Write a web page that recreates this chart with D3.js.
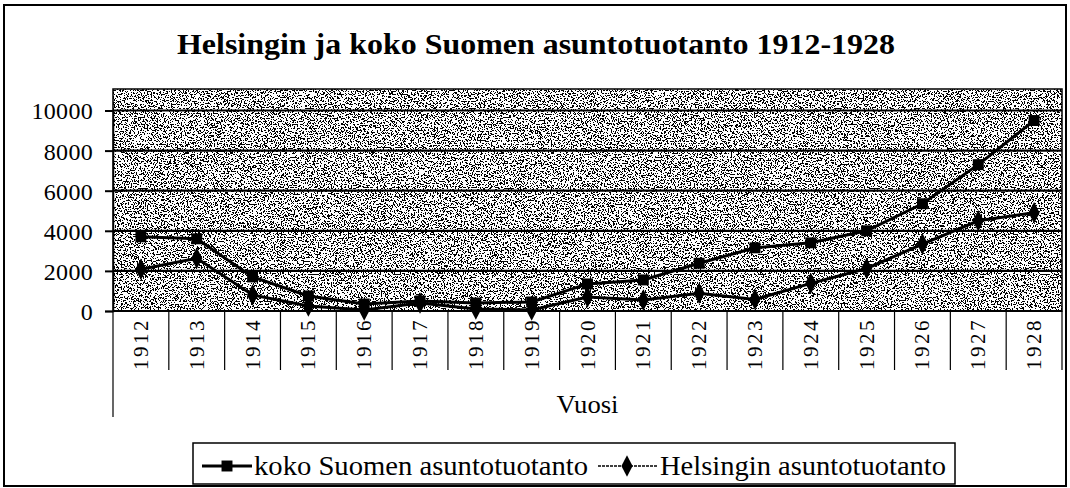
<!DOCTYPE html>
<html><head><meta charset="utf-8">
<script src="https://cdn.jsdelivr.net/npm/d3@7"></script>
<style>body{margin:0;background:#fff}svg{display:block}svg text{font-family:Liberation Serif}</style>
</head><body>
<svg id="c" width="1070" height="488" font-family="Liberation Serif"><g id="root" font-family="Liberation Serif"></g></svg>
<script>
const years = ["1912","1913","1914","1915","1916","1917","1918","1919","1920","1921","1922","1923","1924","1925","1926","1927","1928"];
const kokoSuomi = [3700,3600,1700,750,350,500,400,450,1350,1550,2380,3150,3400,4000,5350,7300,9500];
const helsinki = [2080,2630,800,250,50,400,100,50,700,550,880,580,1380,2120,3340,4500,4900];
const yTicks = [0,2000,4000,6000,8000,10000];
const seriesNames = ["koko Suomen asuntotuotanto","Helsingin asuntotuotanto"];
const title = "Helsingin ja koko Suomen asuntotuotanto 1912-1928";
const axisTitle = "Vuosi";

const svgRoot = d3.select("#c");
const svg = d3.select("#root");
const defs = svgRoot.insert("defs",":first-child");
const f = defs.append("filter").attr("id","noise").attr("x",0).attr("y",0).attr("width","100%").attr("height","100%");
f.append("feTurbulence").attr("type","fractalNoise").attr("baseFrequency","0.7").attr("numOctaves",2).attr("seed",7).attr("result","t");
f.append("feColorMatrix").attr("type","matrix").attr("values","1 0 0 0 0  1 0 0 0 0  1 0 0 0 0  0 0 0 0 1");
const ct = f.append("feComponentTransfer");
const tv = "0 0 0 0 0 0 0 0 0 1 1 1 1 1 1 1 1 1 1 1";
["R","G","B"].forEach(c=>ct.append("feFunc"+c).attr("type","discrete").attr("tableValues",tv));

const L=113, R=1062, T=89, B=311;
const x = d3.scaleBand().domain(years).range([L,R]);
const y = d3.scaleLinear().domain([0,10000]).range([B,110.5]);

svg.append("rect").attr("x",4).attr("y",5).attr("width",1062).attr("height",481).attr("fill","#fff").attr("stroke","#000").attr("stroke-width",2);

svg.append("text").attr("x",536).attr("y",54).attr("text-anchor","middle").attr("font-size",30).attr("font-weight","bold")
  .attr("textLength",718).attr("lengthAdjust","spacingAndGlyphs").text(title);

svg.append("rect").attr("x",L).attr("y",T).attr("width",R-L).attr("height",B-T).attr("fill","#888").attr("filter","url(#noise)");
svg.append("g").selectAll("line").data(yTicks.filter(d=>d>0)).join("line")
  .attr("x1",L).attr("x2",R).attr("y1",d=>y(d)).attr("y2",d=>y(d)).attr("stroke","#000").attr("stroke-width",2.2);
svg.append("rect").attr("x",L).attr("y",T).attr("width",R-L).attr("height",B-T).attr("fill","none").attr("stroke","#000").attr("stroke-width",1.5);

const ya = svg.append("g").attr("transform",`translate(${L},0)`)
  .call(d3.axisLeft(y).tickValues(yTicks).tickSize(8).tickPadding(12).tickFormat(d3.format("d")));
ya.attr("font-family",null);
ya.select(".domain").attr("stroke","#000").attr("stroke-width",1.5);
ya.selectAll(".tick line").attr("stroke","#000").attr("stroke-width",2);
ya.selectAll("text").attr("font-size",24).attr("fill","#000").attr("letter-spacing","0.3px").attr("dy","0.35em");

svg.append("line").attr("x1",L).attr("x2",R).attr("y1",B).attr("y2",B).attr("stroke","#000").attr("stroke-width",2);
const bounds = years.map(d=>x(d)).concat([R]);
svg.append("g").selectAll("line").data(bounds).join("line")
  .attr("x1",d=>d).attr("x2",d=>d).attr("y1",B).attr("y2",(d,i)=>i===0?417:370)
  .attr("stroke","#000").attr("stroke-width",1.2);
svg.append("g").selectAll("text").data(years).join("text")
  .attr("transform",d=>`translate(${x(d)+x.bandwidth()/2+7},344) rotate(-90)`)
  .attr("text-anchor","middle").attr("font-size",21).attr("letter-spacing","2.5px").text(d=>d);
svg.append("text").attr("x",(L+R)/2).attr("y",413).attr("text-anchor","middle").attr("font-size",25)
  .attr("textLength",62).attr("lengthAdjust","spacingAndGlyphs").text(axisTitle);

const cx = d=>x(d)+x.bandwidth()/2;
const line = d3.line().x(d=>cx(d[0])).y(d=>y(d[1]));
const s1 = years.map((d,i)=>[d,kokoSuomi[i]]);
const s2 = years.map((d,i)=>[d,helsinki[i]]);
svg.append("path").datum(s1).attr("d",line).attr("fill","none").attr("stroke","#000").attr("stroke-width",3);
svg.append("path").datum(s2).attr("d",line).attr("fill","none").attr("stroke","#000").attr("stroke-width",3);
const sq = d3.symbol().type(d3.symbolSquare).size(120);
const di = d3.symbol().type(d3.symbolDiamond).size(120);
svg.append("g").selectAll("path").data(s1).join("path").attr("d",sq).attr("transform",d=>`translate(${cx(d[0])},${y(d[1])})`).attr("fill","#000");
svg.append("g").selectAll("path").data(s2).join("path").attr("d",di).attr("transform",d=>`translate(${cx(d[0])},${y(d[1])}) scale(0.95,1.05)`).attr("fill","#000");

svg.append("rect").attr("x",193).attr("y",443).attr("width",762).attr("height",41).attr("fill","#fff").attr("stroke","#000").attr("stroke-width",1.5);
svg.append("line").attr("x1",202).attr("x2",252).attr("y1",466).attr("y2",466).attr("stroke","#000").attr("stroke-width",3);
svg.append("path").attr("d",sq).attr("transform","translate(227,466)").attr("fill","#000");
svg.append("text").attr("x",254).attr("y",475).attr("font-size",27)
  .attr("textLength",334).attr("lengthAdjust","spacingAndGlyphs").text(seriesNames[0]);
svg.append("line").attr("x1",598).attr("x2",657).attr("y1",466).attr("y2",466).attr("stroke","#000").attr("stroke-width",1.5).attr("stroke-dasharray","3,1");
svg.append("path").attr("d",di).attr("transform","translate(627,466) scale(0.95,1.05)").attr("fill","#000");
svg.append("text").attr("x",660).attr("y",475).attr("font-size",27)
  .attr("textLength",286).attr("lengthAdjust","spacingAndGlyphs").text(seriesNames[1]);
</script>
</body></html>
